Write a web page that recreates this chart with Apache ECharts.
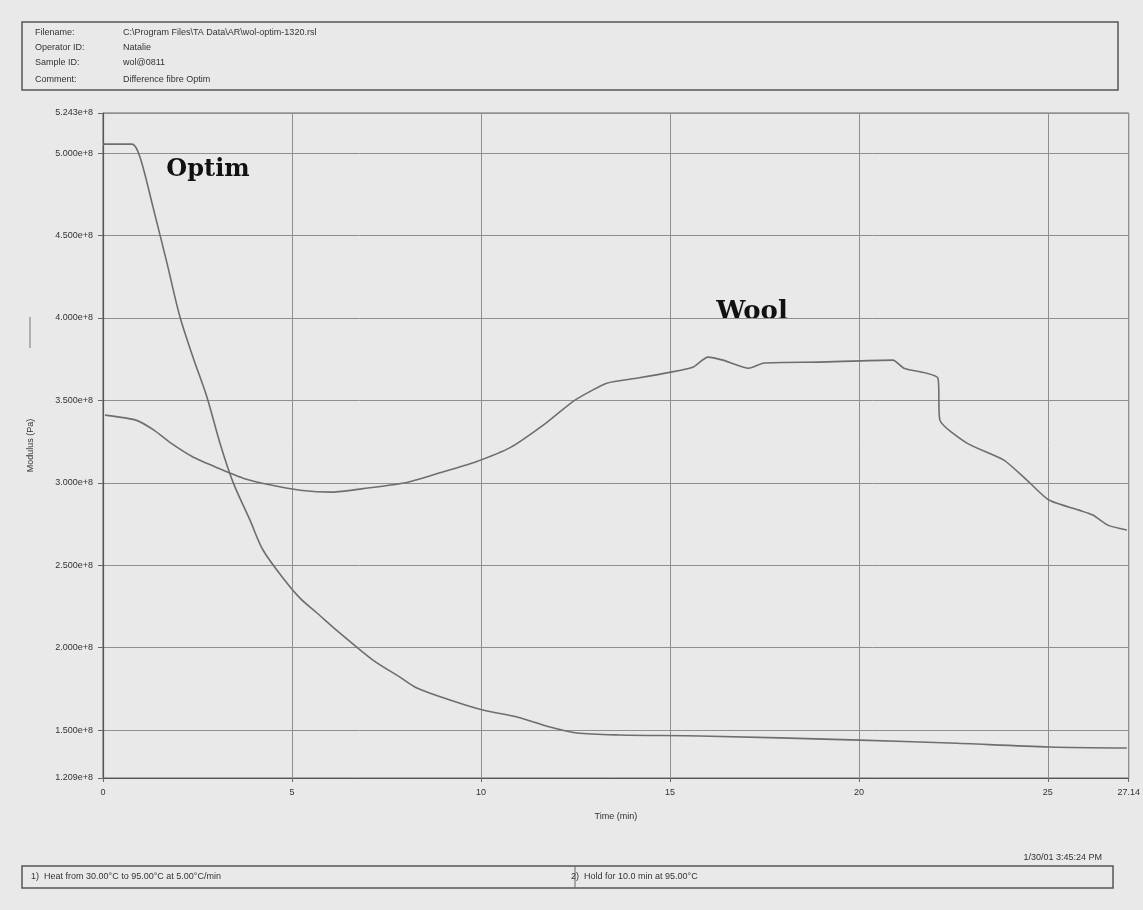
<!DOCTYPE html>
<html>
<head>
<meta charset="utf-8">
<script src="https://cdn.jsdelivr.net/npm/echarts@6/dist/echarts.min.js"></script>
<style>
html,body{margin:0;padding:0;background:#e9e9e9;}
#c{width:1143px;height:910px;}
</style>
</head>
<body>
<div id="c"></div>
<script>
// ---- data (time in min, modulus in Pa) ----
var timeOptim = [0, 0.767, 0.979, 1.323, 1.693, 2.037, 2.381, 2.751, 3.095, 3.439, 3.889, 4.233, 4.762, 5.212, 5.661, 6.270, 7.143, 7.857, 8.307, 9.180, 10.053, 10.952, 11.825, 12.540, 13.677, 15.794, 20.026, 22.407, 25.053, 27.09];
var modOptim  = [5.054e8, 5.054e8, 4.975e8, 4.672e8, 4.332e8, 4.005e8, 3.762e8, 3.519e8, 3.240e8, 3.004e8, 2.773e8, 2.592e8, 2.422e8, 2.300e8, 2.210e8, 2.088e8, 1.924e8, 1.821e8, 1.755e8, 1.682e8, 1.621e8, 1.579e8, 1.518e8, 1.482e8, 1.470e8, 1.464e8, 1.439e8, 1.421e8, 1.397e8, 1.391e8];
var timeWool  = [0.053, 0.873, 1.349, 1.799, 2.381, 3.042, 3.704, 4.444, 5.212, 6.058, 7.011, 7.963, 8.889, 9.841, 10.794, 11.720, 12.487, 13.333, 14.153, 15.026, 15.608, 16.005, 16.402, 17.090, 17.487, 18.942, 20.899, 21.190, 22.090, 22.143, 22.857, 23.836, 24.444, 25.026, 25.820, 26.190, 26.587, 27.09];
var modWool   = [3.410e8, 3.380e8, 3.319e8, 3.240e8, 3.156e8, 3.089e8, 3.028e8, 2.986e8, 2.955e8, 2.943e8, 2.968e8, 2.998e8, 3.059e8, 3.125e8, 3.216e8, 3.362e8, 3.501e8, 3.604e8, 3.635e8, 3.671e8, 3.701e8, 3.762e8, 3.744e8, 3.695e8, 3.726e8, 3.732e8, 3.744e8, 3.695e8, 3.635e8, 3.380e8, 3.240e8, 3.137e8, 3.016e8, 2.895e8, 2.834e8, 2.804e8, 2.743e8, 2.713e8];
var yMin = 1.209e8, yMax = 5.243e8;
var yTicks = [1.209e8, 1.5e8, 2.0e8, 2.5e8, 3.0e8, 3.5e8, 4.0e8, 4.5e8, 5.0e8, 5.243e8];
var xMin = 0, xMax = 27.14, xStep = 5;
var headerLabels = ['Filename:', 'Operator ID:', 'Sample ID:', 'Comment:'];
var headerValues = ['C:\\Program Files\\TA Data\\AR\\wol-optim-1320.rsl', 'Natalie', 'wol@0811', 'Difference fibre Optim'];
var step1 = '1)  Heat from 30.00°C to 95.00°C at 5.00°C/min';
var step2 = '2)  Hold for 10.0 min at 95.00°C';
var stamp = '1/30/01 3:45:24 PM';

function zip(a, b){ var r=[]; for(var i=0;i<a.length;i++) r.push([a[i], b[i]]); return r; }

var chart = echarts.init(document.getElementById('c'), null, {renderer:'canvas'});
var txtColor = '#333';
var gfx = [
  {type:'rect', shape:{x:22,y:22,width:1096,height:68}, style:{fill:'none', stroke:'#555', lineWidth:1.5}},
  {type:'rect', shape:{x:22,y:866,width:1091,height:22}, style:{fill:'none', stroke:'#555', lineWidth:1.5}},
  {type:'line', shape:{x1:575,y1:866,x2:575,y2:888}, style:{stroke:'#666', lineWidth:1}},
  {type:'text', x:31, y:877, style:{text:step1, fill:txtColor, font:'9px "Liberation Sans"', textVerticalAlign:'middle'}},
  {type:'text', x:571, y:877, style:{text:step2, fill:txtColor, font:'9px "Liberation Sans"', textVerticalAlign:'middle'}},
  {type:'text', x:1102, y:858, style:{text:stamp, fill:txtColor, font:'9px "Liberation Sans"', textAlign:'right', textVerticalAlign:'middle'}},
  {type:'text', x:208, y:170, style:{text:'Optim', fill:'#111', font:'bold 24px "DejaVu Serif"', textAlign:'center', textVerticalAlign:'middle'}},
  {type:'text', x:752, y:312, style:{text:'Wool', fill:'#111', font:'bold 26px "DejaVu Serif"', textAlign:'center', textVerticalAlign:'middle'}},
  {type:'line', shape:{x1:30,y1:317,x2:30,y2:348}, style:{stroke:'#777', lineWidth:1}}
];
var rowsY = [33, 48, 63, 80];
for (var i=0;i<headerLabels.length;i++){
  gfx.push({type:'text', x:35, y:rowsY[i], style:{text:headerLabels[i], fill:txtColor, font:'9px "Liberation Sans"', textVerticalAlign:'middle'}});
  gfx.push({type:'text', x:123, y:rowsY[i], style:{text:headerValues[i], fill:txtColor, font:'9px "Liberation Sans"', textVerticalAlign:'middle'}});
}

chart.setOption({
  backgroundColor:'#e9e9e9',
  animation:false,
  grid:{left:103, right:14, top:113, bottom:132, show:true, borderColor:'#666', borderWidth:1, backgroundColor:'transparent'},
  xAxis:{
    type:'value', min:xMin, max:xMax, interval:xStep,
    name:'Time (min)', nameLocation:'middle', nameGap:34,
    nameTextStyle:{fontSize:9, color:txtColor, fontFamily:'Liberation Sans'},
    axisLine:{show:true, lineStyle:{color:'#555', width:1.2}},
    axisTick:{show:true, length:4, lineStyle:{color:'#666'}},
    axisLabel:{fontSize:9, color:txtColor, fontFamily:'Liberation Sans', margin:10,
      formatter:function(v){ return v===xMax ? v.toFixed(2) : String(v); }},
    splitLine:{show:true, lineStyle:{color:'#8f8f8f', width:1}}
  },
  yAxis:{
    type:'value', min:yMin, max:yMax,
    name:'Modulus (Pa)', nameLocation:'middle', nameGap:68, nameRotate:90,
    nameTextStyle:{fontSize:9, color:txtColor, fontFamily:'Liberation Sans'},
    axisLine:{show:true, lineStyle:{color:'#555', width:1.2}},
    axisTick:{show:true, length:5, customValues:yTicks, lineStyle:{color:'#666'}},
    axisLabel:{fontSize:9, color:txtColor, fontFamily:'Liberation Sans', margin:10, customValues:yTicks,
      formatter:function(v){ return v.toExponential(3); }},
    splitLine:{show:true, lineStyle:{color:'#8f8f8f', width:1}}
  },
  series:[
    {name:'Optim', type:'line', data:zip(timeOptim, modOptim), symbol:'none', smooth:0.3,
     lineStyle:{color:'#6e6e6e', width:1.6}},
    {name:'Wool', type:'line', data:zip(timeWool, modWool), symbol:'none', smooth:0.2,
     lineStyle:{color:'#6e6e6e', width:1.6}}
  ],
  graphic: gfx
});
</script>
</body>
</html>
